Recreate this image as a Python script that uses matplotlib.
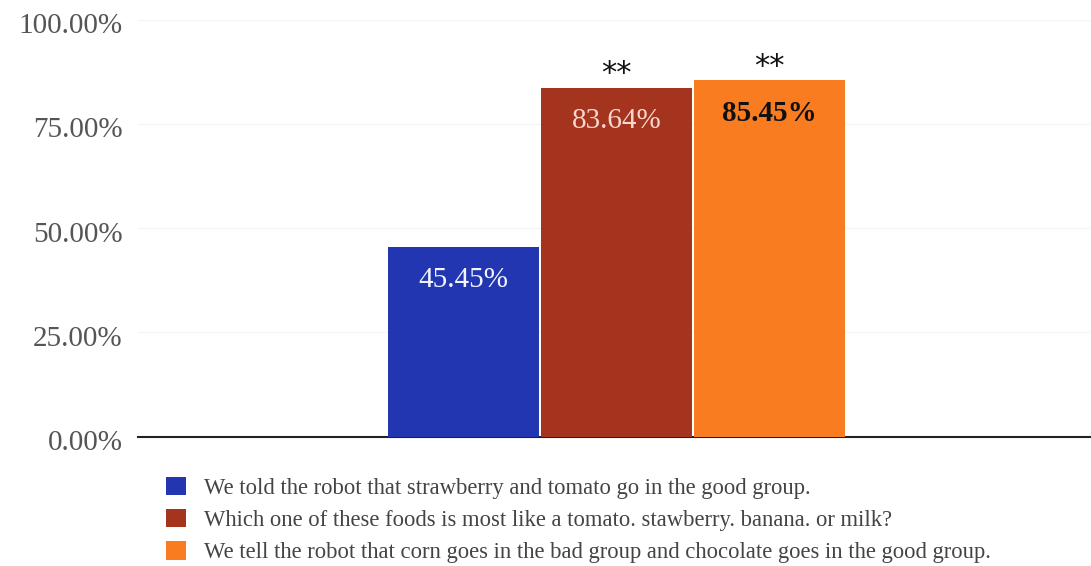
import matplotlib.pyplot as plt
from matplotlib.patches import Patch
from matplotlib.transforms import ScaledTranslation

# data
labels = [
    "We told the robot that strawberry and tomato go in the good group.",
    "Which one of these foods is most like a tomato. stawberry. banana. or milk?",
    "We tell the robot that corn goes in the bad group and chocolate goes in the good group.",
]
values = [0.4545, 0.8364, 0.8545]
value_text = ["45.45%", "83.64%", "85.45%"]
signif = ["", "**", "**"]
yticks = [0, 0.25, 0.5, 0.75, 1.0]
ytick_labels = ["0.00%", "25.00%", "50.00%", "75.00%", "100.00%"]

colors = ["#2236b2", "#a5341f", "#fa7c20"]
text_colors = ["#f2f4ff", "#f8d8cc", "#111111"]

plt.rcParams['font.family'] = ['Liberation Serif', 'DejaVu Serif']

fig = plt.figure(figsize=(10.91, 5.66), dpi=100)
ax = fig.add_axes([138 / 1091, 1 - 436.5 / 566, 1 - 138 / 1091, (436.5 - 19.5) / 566])

x = list(range(len(values)))
ax.bar(x, values, width=0.987, color=colors, zorder=3)

for i, v in enumerate(values):
    ax.annotate(value_text[i], (i, v), xytext=(0, -33), textcoords='offset pixels',
                ha='center', va='center', fontsize=21, color=text_colors[i],
                fontweight='bold' if i == 2 else 'normal', zorder=4)
    if signif[i]:
        ax.annotate(signif[i], (i, v), xytext=(0, 14), textcoords='offset pixels',
                    ha='center', va='center', fontsize=22, color='#111111',
                    family='DejaVu Sans')

ax.set_xlim(-2.13, 4.10)
ax.set_ylim(0, 1)
ax.set_yticks(yticks)
ax.set_yticklabels(ytick_labels, fontsize=21, color='#555555')
ax.set_xticks([])
ax.tick_params(axis='y', length=0, pad=11)
# labels sit a little below their gridlines in the original
for lbl in ax.get_yticklabels():
    lbl.set_transform(lbl.get_transform() + ScaledTranslation(0, -0.035, fig.dpi_scale_trans))
ax.grid(axis='y', color='#f5f5f5', linewidth=1, zorder=0)
for s in ['top', 'right', 'left']:
    ax.spines[s].set_visible(False)
ax.spines['bottom'].set_color('#222222')
ax.spines['bottom'].set_linewidth(1.5)

handles = [Patch(facecolor=c, edgecolor='none') for c in colors]
fig.legend(handles, labels, loc='upper left', bbox_to_anchor=(146 / 1091, 1 - 457 / 566),
           frameon=False, fontsize=16.3, labelcolor='#444444',
           handlelength=0.85, handleheight=0.85, handletextpad=0.8, labelspacing=0.45)

plt.savefig('out.png', dpi=100)
